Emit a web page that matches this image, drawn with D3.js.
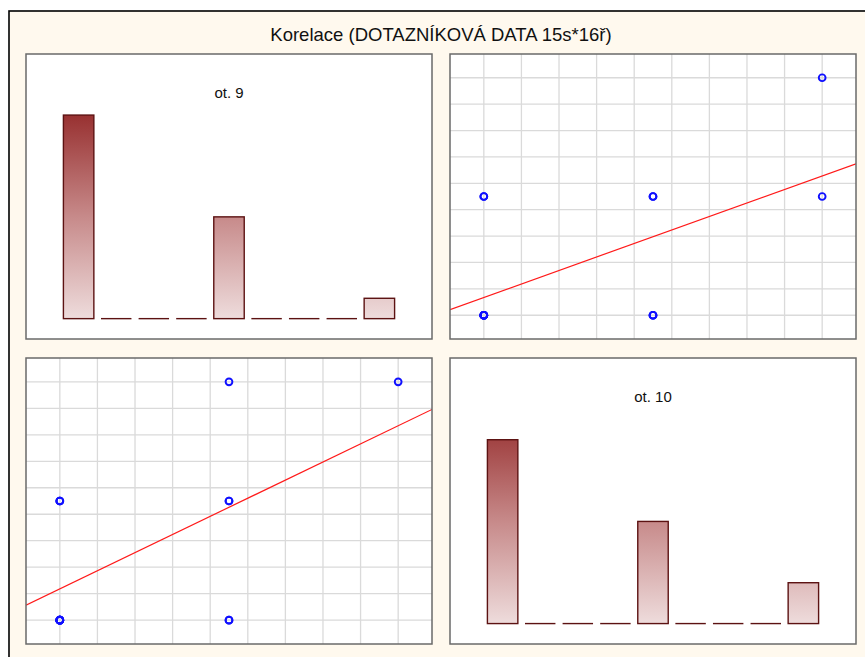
<!DOCTYPE html>
<html>
<head>
<meta charset="utf-8">
<script src="https://cdn.jsdelivr.net/npm/d3@7"></script>
<style>
  html, body { margin: 0; padding: 0; background: #ffffff; }
  svg { display: block; font-family: "Liberation Sans", Arial, sans-serif; }
</style>
</head>
<body>
<svg id="chart" width="865" height="657"></svg>
<script>
// Answer categories of the questionnaire items (scale 1–9)
const categories = [1, 2, 3, 4, 5, 6, 7, 8, 9];
// Frequency of each answer
const ot9Counts  = [10, 0, 0, 0, 5, 0, 0, 0, 1];
const ot10Counts = [9, 0, 0, 0, 5, 0, 0, 0, 2];
// Individual answers of the 16 respondents
const ot9  = [1, 1, 1, 1, 1, 1, 1, 1, 1, 1, 5, 5, 5, 5, 5, 9];
const ot10 = [1, 1, 1, 1, 1, 1, 1, 5, 5, 5, 1, 1, 5, 5, 9, 9];

const title = "Korelace (DOTAZNÍKOVÁ DATA 15s*16ř)";
const names = ["ot. 9", "ot. 10"];

const svg = d3.select("#chart");
const defs = svg.append("defs");

// outer frame
svg.append("rect")
  .attr("x", 9).attr("y", 11).attr("width", 900).attr("height", 700)
  .attr("fill", "#fff9ee").attr("stroke", "#000").attr("stroke-width", 1.6);

svg.append("text")
  .attr("x", 441).attr("y", 41)
  .attr("text-anchor", "middle")
  .attr("font-size", 18.5)
  .attr("fill", "#111")
  .text(title);

const panels = {
  tl: { x: 26,  y: 54,  w: 406, h: 285 },
  tr: { x: 450, y: 54,  w: 406, h: 285 },
  bl: { x: 26,  y: 358, w: 406, h: 286 },
  br: { x: 450, y: 358, w: 406, h: 286 }
};

function frame(p, id) {
  const g = svg.append("g");
  g.append("rect")
    .attr("x", p.x).attr("y", p.y).attr("width", p.w).attr("height", p.h)
    .attr("fill", "#fff");
  defs.append("clipPath").attr("id", "clip-" + id)
    .append("rect")
    .attr("x", p.x).attr("y", p.y).attr("width", p.w).attr("height", p.h);
  return g;
}

function border(p) {
  svg.append("rect")
    .attr("x", p.x).attr("y", p.y).attr("width", p.w).attr("height", p.h)
    .attr("fill", "none").attr("stroke", "#6a6a6a").attr("stroke-width", 1.5);
}

function histogram(p, id, counts, label) {
  const g = frame(p, id);
  const x = d3.scaleLinear().domain([-0.4, 10.4]).range([p.x, p.x + p.w]);
  const y = d3.scaleLinear().domain([-1, 13]).range([p.y + p.h, p.y]);
  const bw = 0.81;

  const grad = defs.append("linearGradient")
    .attr("id", "grad-" + id)
    .attr("gradientUnits", "userSpaceOnUse")
    .attr("x1", 0).attr("x2", 0)
    .attr("y1", y(10)).attr("y2", y(0));
  grad.append("stop").attr("offset", 0).attr("stop-color", "#983131");
  grad.append("stop").attr("offset", 0.5).attr("stop-color", "#c78a8a");
  grad.append("stop").attr("offset", 1).attr("stop-color", "#eedcdc");

  g.append("text")
    .attr("x", p.x + p.w / 2).attr("y", p.y + 44)
    .attr("text-anchor", "middle")
    .attr("font-size", 15)
    .attr("fill", "#111")
    .text(label);

  const data = categories.map((c, i) => ({ c, v: counts[i] }));
  g.selectAll("rect.bar")
    .data(data.filter(d => d.v > 0))
    .join("rect")
    .attr("class", "bar")
    .attr("x", d => x(d.c - bw / 2))
    .attr("width", d => x(d.c + bw / 2) - x(d.c - bw / 2))
    .attr("y", d => y(d.v))
    .attr("height", d => y(0) - y(d.v))
    .attr("fill", "url(#grad-" + id + ")")
    .attr("stroke", "#5c1212")
    .attr("stroke-width", 1.4);

  g.selectAll("line.zero")
    .data(data.filter(d => d.v === 0))
    .join("line")
    .attr("class", "zero")
    .attr("x1", d => x(d.c - bw / 2))
    .attr("x2", d => x(d.c + bw / 2))
    .attr("y1", y(0)).attr("y2", y(0))
    .attr("stroke", "#5c1212")
    .attr("stroke-width", 1.4);

  border(p);
}

function scatter(p, id, xs, ys) {
  const g = frame(p, id);
  const xe = d3.extent(xs), ye = d3.extent(ys);
  const xpad = (xe[1] - xe[0]) * 0.1, ypad = (ye[1] - ye[0]) * 0.1;
  const x = d3.scaleLinear().domain([xe[0] - xpad, xe[1] + xpad]).range([p.x, p.x + p.w]);
  const y = d3.scaleLinear().domain([ye[0] - ypad, ye[1] + ypad]).range([p.y + p.h, p.y]);

  const nDiv = 9;
  const gx = d3.range(nDiv + 1).map(i => xe[0] + i * (xe[1] - xe[0]) / nDiv);
  const gy = d3.range(nDiv + 1).map(i => ye[0] + i * (ye[1] - ye[0]) / nDiv);

  g.selectAll("line.gx").data(gx).join("line")
    .attr("x1", d => x(d)).attr("x2", d => x(d))
    .attr("y1", p.y).attr("y2", p.y + p.h)
    .attr("stroke", "#dadada").attr("stroke-width", 1.3);
  g.selectAll("line.gy").data(gy).join("line")
    .attr("y1", d => y(d)).attr("y2", d => y(d))
    .attr("x1", p.x).attr("x2", p.x + p.w)
    .attr("stroke", "#dadada").attr("stroke-width", 1.3);

  // least-squares regression line
  const mx = d3.mean(xs), my = d3.mean(ys);
  const sxy = d3.sum(xs, (v, i) => (v - mx) * (ys[i] - my));
  const sxx = d3.sum(xs, v => (v - mx) * (v - mx));
  const b = sxy / sxx, a = my - b * mx;
  const [d0, d1] = x.domain();
  g.append("line")
    .attr("clip-path", "url(#clip-" + id + ")")
    .attr("x1", x(d0)).attr("y1", y(a + b * d0))
    .attr("x2", x(d1)).attr("y2", y(a + b * d1))
    .attr("stroke", "#ff1a1a").attr("stroke-width", 1.2);

  g.selectAll("circle").data(xs.map((v, i) => [v, ys[i]])).join("circle")
    .attr("cx", d => x(d[0])).attr("cy", d => y(d[1]))
    .attr("r", 3.4)
    .attr("fill", "none")
    .attr("stroke", "#1010ff")
    .attr("stroke-width", 1.9);

  border(p);
}

histogram(panels.tl, "tl", ot9Counts, names[0]);
scatter(panels.tr, "tr", ot10, ot9);
scatter(panels.bl, "bl", ot9, ot10);
histogram(panels.br, "br", ot10Counts, names[1]);
</script>
</body>
</html>
